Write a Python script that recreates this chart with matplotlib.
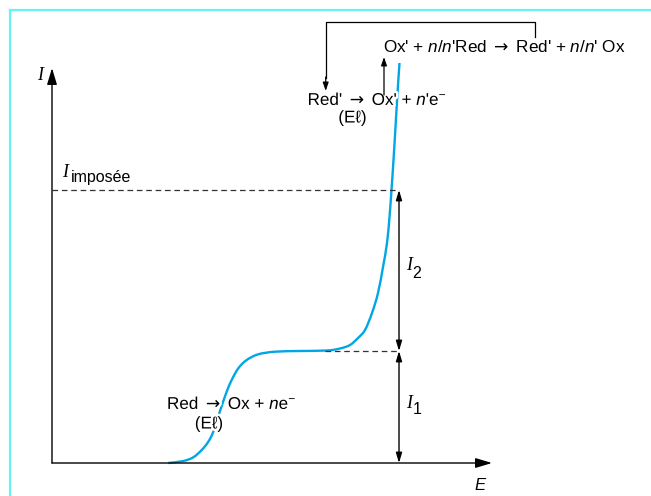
import matplotlib
matplotlib.use("Agg")
import matplotlib.pyplot as plt
from matplotlib.lines import Line2D
from matplotlib.path import Path
from matplotlib.patches import PathPatch
import matplotlib.patheffects as pe

plt.rcParams['font.family'] = ['Liberation Sans', 'DejaVu Sans']
plt.rcParams['mathtext.fontset'] = 'custom'
plt.rcParams['mathtext.rm'] = 'Liberation Sans'
plt.rcParams['mathtext.it'] = 'Liberation Sans:italic'
plt.rcParams['mathtext.sf'] = 'DejaVu Sans'

# ---- data (schematic units: E along x, I along y, origin at axis crossing)
E_curve = [116.3, 131.3, 141.3, 149.7, 156.3, 161.3, 168, 174.7, 179.7, 186.3, 194.7,
           206.3, 223, 248, 275, 288, 298, 306, 313, 320, 326, 331, 335, 337.5, 339.5,
           341.5, 343.5, 345.5, 347.5]
I_curve = [0, 2, 5.7, 13, 21.3, 31.3, 52, 71.3, 83, 94.7, 103,
           108.7, 111.3, 112, 112.5, 114.5, 118, 125, 133, 150, 170, 196, 220, 246, 273,
           303, 336, 370, 400]

I1_level = 112        # plateau of first wave
I_imposee = 273       # imposed current
E_dim = 347           # abscissa of the dimension arrows
E_plateau_dash = 273  # start of the short dashed line
E_axis_len = 440
I_axis_len = 395

fig = plt.figure(figsize=(6.51, 4.96), dpi=100)
ax = fig.add_axes([0, 0, 1, 1])
ax.set_xlim(-52, 599)
ax.set_ylim(-33, 463)
ax.axis('off')

# frame (light cyan, top and left)
fig.add_artist(Line2D([10/651, 1], [1 - 10/496, 1 - 10/496], transform=fig.transFigure,
                      color='#6cf0f0', lw=1.6))
fig.add_artist(Line2D([10/651, 10/651], [0, 1 - 10/496], transform=fig.transFigure,
                      color='#6cf0f0', lw=1.6))

k = 'black'
serif_it = dict(family='Liberation Serif', style='italic')
# axes
ax.annotate('', xy=(0, I_axis_len), xytext=(0, 0),
            arrowprops=dict(arrowstyle='-|>,head_length=1.0,head_width=0.3', lw=1.0,
                            color=k, shrinkA=0, shrinkB=0))
ax.annotate('', xy=(E_axis_len, 0), xytext=(0, 0),
            arrowprops=dict(arrowstyle='-|>,head_length=1.0,head_width=0.3', lw=1.0,
                            color=k, shrinkA=0, shrinkB=0))
ax.text(-12, I_axis_len - 8, 'I', fontsize=13, ha='center', va='center', **serif_it)
ax.text(428, -22, 'E', style='italic', fontsize=12, ha='center', va='center')

# dashed lines
ax.plot([0, E_dim], [I_imposee, I_imposee], ls=(0, (4.5, 3)), color='#333333', lw=0.9)
ax.plot([E_plateau_dash, E_dim], [I1_level, I1_level], ls=(0, (4.5, 3)), color='#333333', lw=0.9)

# dimension arrows
dim_style = '<|-|>,head_length=0.6,head_width=0.18'
ax.annotate('', xy=(E_dim, I1_level), xytext=(E_dim, 0),
            arrowprops=dict(arrowstyle=dim_style, lw=1.0, color=k, shrinkA=0, shrinkB=0))
ax.annotate('', xy=(E_dim, I_imposee), xytext=(E_dim, I1_level),
            arrowprops=dict(arrowstyle=dim_style, lw=1.0, color=k, shrinkA=0, shrinkB=0))

# labels I1, I2, I_imposée (I serif italic + sans subscript)
ax.text(354, 55, 'I', fontsize=13, ha='left', va='baseline', **serif_it)
ax.text(361, 49, '1', fontsize=11.5, ha='left', va='baseline')
ax.text(354, 193, 'I', fontsize=13, ha='left', va='baseline', **serif_it)
ax.text(360, 185, '2', fontsize=11.5, ha='left', va='baseline')
ax.text(10, 286, 'I', fontsize=13, ha='left', va='baseline', **serif_it)
ax.text(19, 281, 'imposée', fontsize=11.5, ha='left', va='baseline')

# curve: smooth Bezier path (Catmull-Rom) through the read points
pts = list(zip(E_curve, I_curve))
verts = [pts[0]]
codes = [Path.MOVETO]
for i in range(len(pts) - 1):
    p0 = pts[i - 1] if i > 0 else pts[i]
    p1 = pts[i]
    p2 = pts[i + 1]
    p3 = pts[i + 2] if i + 2 < len(pts) else pts[i + 1]
    c1 = (p1[0] + (p2[0] - p0[0]) / 6, p1[1] + (p2[1] - p0[1]) / 6)
    c2 = (p2[0] - (p3[0] - p1[0]) / 6, p2[1] - (p3[1] - p1[1]) / 6)
    verts += [c1, c2, p2]
    codes += [Path.CURVE4] * 3
ax.add_patch(PathPatch(Path(verts, codes), facecolor='none', edgecolor='#00a6e6',
                       lw=1.7, capstyle='butt', joinstyle='round'))

white = [pe.withStroke(linewidth=3.5, foreground='white')]
fs = 12.3
arr = r'$\mathsf{\rightarrow}$'
ax.text(180, 59, f'Red {arr} Ox + $n$e$^{{-}}$', fontsize=fs, ha='center', va='center',
        path_effects=white)
ax.text(157, 39, '(Eℓ)', fontsize=fs, ha='center', va='center', path_effects=white)

ax.text(325.5, 363, f"Red' {arr} Ox' + $n$'e$^{{-}}$", fontsize=fs, ha='center',
        va='center', path_effects=white)
ax.text(300.5, 345, '(Eℓ)', fontsize=fs, ha='center', va='center', path_effects=white)
ax.text(452.5, 416, f"Ox' + $n$/$n$'Red {arr} Red' + $n$/$n$' Ox", fontsize=fs,
        ha='center', va='center')

# feedback loop
ax.plot([483, 483, 273.7, 273.7], [426, 441.3, 441.3, 385], color=k, lw=0.9)
ax.annotate('', xy=(273.7, 372), xytext=(273.7, 386),
            arrowprops=dict(arrowstyle='-|>,head_length=0.5,head_width=0.17', lw=0.9,
                            color=k, shrinkA=0, shrinkB=0))
ax.annotate('', xy=(332, 406), xytext=(332, 368),
            arrowprops=dict(arrowstyle='-|>,head_length=0.5,head_width=0.17', lw=0.9,
                            color=k, shrinkA=0, shrinkB=0))

fig.savefig('out.png', dpi=100)
